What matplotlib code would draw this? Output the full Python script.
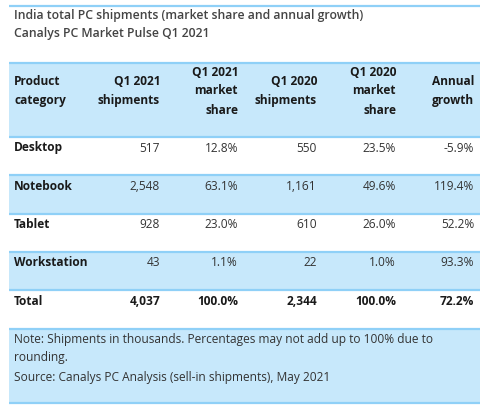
import matplotlib.pyplot as plt
from matplotlib.patches import Rectangle

plt.rcParams["font.family"] = ["Open Sans", "DejaVu Sans"]

title_lines = [
    "India total PC shipments (market share and annual growth)",
    "Canalys PC Market Pulse Q1 2021",
]
headers = [
    "Product\ncategory",
    "Q1 2021\nshipments",
    "Q1 2021\nmarket\nshare",
    "Q1 2020\nshipments",
    "Q1 2020\nmarket\nshare",
    "Annual\ngrowth",
]
categories = ["Desktop", "Notebook", "Tablet", "Workstation"]
ship_2021 = ["517", "2,548", "928", "43"]
share_2021 = ["12.8%", "63.1%", "23.0%", "1.1%"]
ship_2020 = ["550", "1,161", "610", "22"]
share_2020 = ["23.5%", "49.6%", "26.0%", "1.0%"]
growth = ["-5.9%", "119.4%", "52.2%", "93.3%"]
total_row = ["Total", "4,037", "100.0%", "2,344", "100.0%", "72.2%"]
note_lines = [
    "Note: Shipments in thousands. Percentages may not add up to 100% due to",
    "rounding.",
    "Source: Canalys PC Analysis (sell-in shipments), May 2021",
]

BG = "#c7e8fb"
LINE = "#8fd0f7"
TXT = "#1a1a1a"

W, H = 490, 409
fig = plt.figure(figsize=(W / 100, H / 100), dpi=100)
ax = fig.add_axes([0, 0, 1, 1])
ax.set_xlim(0, W)
ax.set_ylim(H, 0)
ax.axis("off")

x0, x1 = 9, 480
col_right = [None, 160, 238, 317, 396, 474]
text_left = 14
fs = 8.6


def hline(y):
    ax.plot([x0, x1], [y, y], color=LINE, lw=1.6, solid_capstyle="butt")


def band(y_top, y_bot):
    ax.add_patch(Rectangle((x0, y_top), x1 - x0, y_bot - y_top, color=BG, lw=0))


# title
hline(6)
ax.text(text_left, 16, title_lines[0], fontsize=8.8, fontweight="semibold",
        color="#444444", va="center")
ax.text(text_left, 34, title_lines[1], fontsize=8.8, fontweight="semibold",
        color="#444444", va="center")

# header
band(63, 137)
hline(63)
for i, h in enumerate(headers):
    if i == 0:
        ax.text(text_left, 91, h, fontsize=fs, fontweight="bold", color=TXT,
                va="center", ha="left", linespacing=1.6)
    else:
        ax.text(col_right[i], 91, h, fontsize=fs, fontweight="bold", color=TXT,
                va="center", ha="right", multialignment="right", linespacing=1.6)

# body rows
row_top = 137
row_h = 38.3
for r, cat in enumerate(categories):
    yt = row_top + r * row_h
    if r % 2 == 1:
        band(yt, yt + row_h)
    hline(yt)
    yc = yt + 11
    ax.text(text_left, yc, cat, fontsize=fs, fontweight="bold", color=TXT, va="center")
    vals = [ship_2021[r], share_2021[r], ship_2020[r], share_2020[r], growth[r]]
    for c, v in enumerate(vals, start=1):
        ax.text(col_right[c], yc, v, fontsize=fs, color="#333333", va="center", ha="right")

# total row
yt = row_top + len(categories) * row_h
hline(yt)
for c, v in enumerate(total_row):
    if c == 0:
        ax.text(text_left, yt + 11, v, fontsize=fs, fontweight="bold", color=TXT, va="center")
    else:
        ax.text(col_right[c], yt + 11, v, fontsize=fs, fontweight="bold", color=TXT,
                va="center", ha="right")

# note box
band(329, 403)
hline(329)
hline(403)
for k, line in enumerate(note_lines):
    ax.text(text_left, 339 + k * 19, line, fontsize=fs, color="#333333", va="center")

fig.savefig("out.png", dpi=100, facecolor="white")
